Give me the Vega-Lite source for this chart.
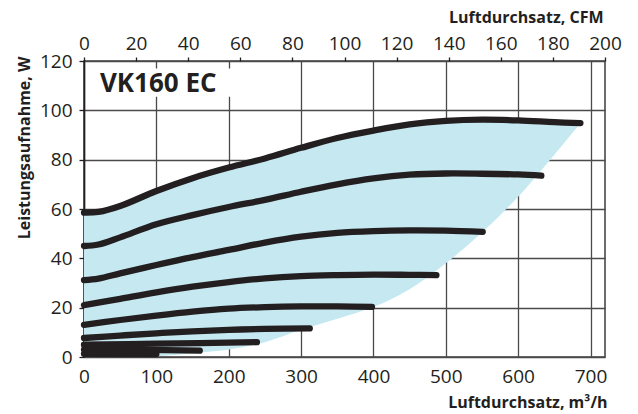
{
  "$schema": "https://vega.github.io/schema/vega-lite/v6.json",
  "width": 521,
  "height": 296,
  "autosize": "none",
  "padding": {"left": 84, "top": 61, "right": 33, "bottom": 57},
  "background": "white",
  "datasets": {
    "curves": [
      {"c": 1, "Q": 0, "P": 58.5}, {"c": 1, "Q": 20, "P": 58.8}, {"c": 1, "Q": 50, "P": 61.2}, {"c": 1, "Q": 100, "P": 67.3}, {"c": 1, "Q": 150, "P": 72.5}, {"c": 1, "Q": 200, "P": 76.8}, {"c": 1, "Q": 250, "P": 80.5}, {"c": 1, "Q": 300, "P": 84.8}, {"c": 1, "Q": 350, "P": 88.8}, {"c": 1, "Q": 400, "P": 91.8}, {"c": 1, "Q": 450, "P": 94.3}, {"c": 1, "Q": 500, "P": 95.7}, {"c": 1, "Q": 550, "P": 96.2}, {"c": 1, "Q": 600, "P": 95.9}, {"c": 1, "Q": 650, "P": 95.2}, {"c": 1, "Q": 686, "P": 94.8},
      {"c": 2, "Q": 0, "P": 45}, {"c": 2, "Q": 20, "P": 45.6}, {"c": 2, "Q": 50, "P": 48.5}, {"c": 2, "Q": 100, "P": 53.8}, {"c": 2, "Q": 150, "P": 57.5}, {"c": 2, "Q": 200, "P": 60.8}, {"c": 2, "Q": 250, "P": 63.7}, {"c": 2, "Q": 300, "P": 67}, {"c": 2, "Q": 350, "P": 70}, {"c": 2, "Q": 400, "P": 72.4}, {"c": 2, "Q": 450, "P": 73.9}, {"c": 2, "Q": 500, "P": 74.4}, {"c": 2, "Q": 550, "P": 74.3}, {"c": 2, "Q": 600, "P": 74}, {"c": 2, "Q": 632, "P": 73.5},
      {"c": 3, "Q": 0, "P": 31.2}, {"c": 3, "Q": 20, "P": 31.8}, {"c": 3, "Q": 50, "P": 33.9}, {"c": 3, "Q": 100, "P": 37.3}, {"c": 3, "Q": 150, "P": 40.5}, {"c": 3, "Q": 200, "P": 43.4}, {"c": 3, "Q": 250, "P": 46.4}, {"c": 3, "Q": 300, "P": 48.8}, {"c": 3, "Q": 350, "P": 50.3}, {"c": 3, "Q": 400, "P": 51}, {"c": 3, "Q": 450, "P": 51.3}, {"c": 3, "Q": 500, "P": 51.2}, {"c": 3, "Q": 551, "P": 50.7},
      {"c": 4, "Q": 0, "P": 21}, {"c": 4, "Q": 50, "P": 23.6}, {"c": 4, "Q": 100, "P": 26.2}, {"c": 4, "Q": 150, "P": 28.5}, {"c": 4, "Q": 200, "P": 30.4}, {"c": 4, "Q": 250, "P": 31.9}, {"c": 4, "Q": 300, "P": 32.8}, {"c": 4, "Q": 350, "P": 33.2}, {"c": 4, "Q": 400, "P": 33.4}, {"c": 4, "Q": 450, "P": 33.3}, {"c": 4, "Q": 487, "P": 33.2},
      {"c": 5, "Q": 0, "P": 13}, {"c": 5, "Q": 50, "P": 15}, {"c": 5, "Q": 100, "P": 16.8}, {"c": 5, "Q": 150, "P": 18.4}, {"c": 5, "Q": 200, "P": 19.6}, {"c": 5, "Q": 250, "P": 20.2}, {"c": 5, "Q": 300, "P": 20.5}, {"c": 5, "Q": 350, "P": 20.5}, {"c": 5, "Q": 398, "P": 20.3},
      {"c": 6, "Q": 0, "P": 7.7}, {"c": 6, "Q": 50, "P": 8.7}, {"c": 6, "Q": 100, "P": 9.6}, {"c": 6, "Q": 150, "P": 10.4}, {"c": 6, "Q": 200, "P": 11}, {"c": 6, "Q": 250, "P": 11.4}, {"c": 6, "Q": 312, "P": 11.6},
      {"c": 7, "Q": 0, "P": 5}, {"c": 7, "Q": 100, "P": 5.4}, {"c": 7, "Q": 239, "P": 6},
      {"c": 8, "Q": 0, "P": 3}, {"c": 8, "Q": 80, "P": 2.9}, {"c": 8, "Q": 160, "P": 2.6},
      {"c": 9, "Q": 0, "P": 1.3}, {"c": 9, "Q": 100, "P": 1.2}
    ],
    "band": [
      {"Q": 0, "top": 58.5, "bottom": 0}, {"Q": 20, "top": 58.8, "bottom": 0}, {"Q": 50, "top": 61.2, "bottom": 0}, {"Q": 100, "top": 67.3, "bottom": 0.3}, {"Q": 150, "top": 72.5, "bottom": 1.5}, {"Q": 200, "top": 76.8, "bottom": 3}, {"Q": 250, "top": 80.5, "bottom": 6}, {"Q": 300, "top": 84.8, "bottom": 11}, {"Q": 350, "top": 88.8, "bottom": 15.5}, {"Q": 400, "top": 91.8, "bottom": 20.3}, {"Q": 450, "top": 94.3, "bottom": 27.5}, {"Q": 500, "top": 95.7, "bottom": 38}, {"Q": 550, "top": 96.2, "bottom": 50.5}, {"Q": 600, "top": 95.9, "bottom": 65}, {"Q": 650, "top": 95.2, "bottom": 82}, {"Q": 686, "top": 94.8, "bottom": 94.8}
    ],
    "label": [{"name": "VK160 EC", "Q": 22, "P": 107.4}]
  },
  "resolve": {"axis": {"x": "independent"}},
  "layer": [
    {
      "data": {"name": "band"},
      "mark": {"type": "area", "color": "#c5e8f1", "interpolate": "catmull-rom", "opacity": 1},
      "encoding": {
        "x": {"field": "Q", "type": "quantitative", "scale": {"domain": [0, 720], "nice": false, "zero": false},
          "axis": {"orient": "bottom", "values": [0, 100, 200, 300, 400, 500, 600, 700], "grid": true, "tickSize": 0, "domain": false, "labelPadding": 25, "labelBaseline": "alphabetic", "labelFlush": false, "labelOverlap": false,
            "title": "Luftdurchsatz, m³/h", "titleAnchor": "end", "titleAlign": "right", "titleX": 523, "titleY": 50.5, "titleBaseline": "alphabetic"}},
        "y": {"field": "top", "type": "quantitative", "scale": {"domain": [0, 120], "nice": false},
          "axis": {"values": [0, 20, 40, 60, 80, 100, 120], "grid": true, "tickSize": 5, "tickWidth": 1.3, "domain": true, "domainWidth": 1.5, "labelPadding": 7,
            "title": "Leistungsaufnahme, W", "titleAngle": -90, "titleAnchor": "end", "titleAlign": "right", "titleX": -54.7, "titleY": -5, "titleBaseline": "alphabetic"}},
        "y2": {"field": "bottom"}
      }
    },
    {
      "data": {"values": [{}]},
      "mark": {"type": "rect", "color": "white"},
      "encoding": {
        "x": {"datum": 8, "type": "quantitative", "axis": null},
        "x2": {"datum": 205},
        "y": {"datum": 105.5, "type": "quantitative", "title": "Leistungsaufnahme, W"},
        "y2": {"datum": 117}
      }
    },
    {
      "data": {"name": "curves"},
      "mark": {"type": "line", "color": "#231f20", "strokeWidth": 6.3, "strokeCap": "round", "strokeJoin": "round", "interpolate": "catmull-rom"},
      "encoding": {
        "x": {"field": "Q", "type": "quantitative",
          "axis": {"orient": "top", "values": [0, 72, 144, 216, 288, 360, 432, 504, 576, 648, 720], "labelExpr": "format(datum.value / 3.6, 'd')", "grid": false, "tickSize": 4, "tickWidth": 1.3, "domain": false, "labelPadding": 7.7, "labelBaseline": "alphabetic", "labelFlush": false, "labelOverlap": false,
            "title": "Luftdurchsatz, CFM", "titleAnchor": "end", "titleAlign": "right", "titleX": 519, "titleY": -38.3, "titleBaseline": "alphabetic"}},
        "y": {"field": "P", "type": "quantitative", "title": "Leistungsaufnahme, W"},
        "detail": {"field": "c", "type": "nominal"}
      }
    },
    {
      "data": {"name": "label"},
      "mark": {"type": "text", "align": "left", "baseline": "alphabetic", "font": "Open Sans", "fontWeight": "bold", "fontSize": 26, "color": "#231f20"},
      "encoding": {
        "x": {"field": "Q", "type": "quantitative", "axis": null},
        "y": {"field": "P", "type": "quantitative", "title": "Leistungsaufnahme, W"},
        "text": {"field": "name"}
      }
    }
  ],
  "config": {
    "font": "Open Sans",
    "view": {"stroke": "#3c3c3c", "strokeWidth": 1.5},
    "axis": {
      "labelFont": "Open Sans", "labelFontSize": 19, "labelColor": "#231f20",
      "titleFont": "Open Sans", "titleFontWeight": "bold", "titleFontSize": 16, "titleColor": "#231f20",
      "gridColor": "#4a4a4a", "gridWidth": 1.3, "gridOpacity": 1,
      "tickColor": "#231f20", "domainColor": "#231f20"
    }
  }
}
